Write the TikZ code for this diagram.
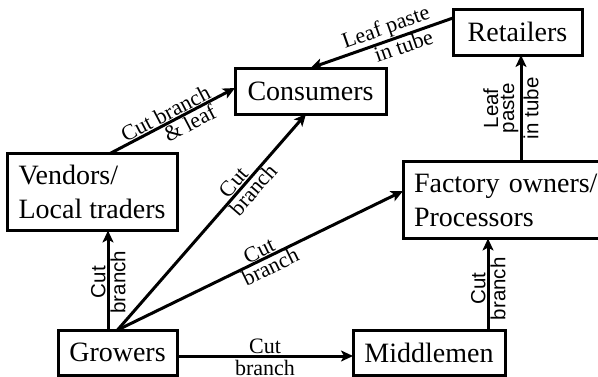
\documentclass[tikz,border=0pt]{standalone}
\usepackage{fontspec}
\setmainfont{Liberation Serif}
\newfontfamily\lblsans{Liberation Sans}
\usetikzlibrary{arrows.meta}
\begin{document}
\begin{tikzpicture}[x=1pt,y=-1pt,
  box/.style={draw,line width=3pt,outer sep=0pt,inner sep=0pt,font=\fontsize{28}{34}\selectfont,align=left},
  link/.style={line width=3pt,-{Stealth[length=12pt,width=11pt,inset=3pt]}},
  dlbl/.style={font=\fontsize{22}{22}\selectfont,inner sep=0.5pt,sloped},
  vlbl/.style={font=\lblsans\fontsize{20.5}{20}\selectfont,inner sep=1pt,sloped,align=center}]
\useasboundingbox (0,0) rectangle (598,376);
\node[box,minimum width=129pt,minimum height=46pt] (ret) at (517.5,32) {Retailers};
\node[box,minimum width=151pt,minimum height=46pt] (cons) at (310.5,91) {Consumers};
\node[box,minimum width=170pt,minimum height=77pt] (vend) at (92,192) {Vendors/\\Local traders};
\node[box,minimum height=77pt,text width=192pt,inner xsep=11pt] (fact) at (510,200) {Factory owners/\\Processors};
\node[box,minimum width=119pt,minimum height=45pt] (grow) at (117.5,352.5) {Growers};
\node[box,minimum width=152pt,minimum height=45pt] (mid) at (429,352.5) {Middlemen};
% connectors
\draw[link] ([xshift=103pt]vend.north west) -- ([yshift=3pt]cons.west)
  node[dlbl,pos=0.48,above]{Cut branch}
  node[dlbl,pos=0.6,below]{\& leaf};
\draw[link,{Stealth[length=12pt,width=11pt,inset=3pt]}-] (cons.north) -- ([yshift=14pt]ret.west)
  node[dlbl,pos=0.56,above]{Leaf paste}
  node[dlbl,pos=0.63,below]{in tube};
\coordinate (fr) at ([xshift=11pt]fact.north);
\draw[link] (fr) -- (fr |- ret.south)
  node[vlbl,pos=0.5,above]{Leaf\\[-4pt]paste}
  node[vlbl,pos=0.5,below]{in tube};
\coordinate (gv) at ([xshift=-9.5pt]grow.north);
\draw[link] (gv) -- (gv |- vend.south)
  node[vlbl,pos=0.48,above]{Cut}
  node[vlbl,pos=0.48,below]{branch};
\draw[link] (grow.north) -- ([xshift=-4.5pt]cons.south)
  node[dlbl,pos=0.655,above]{Cut}
  node[dlbl,pos=0.68,below]{branch};
\draw[link] (grow.north) -- ([yshift=9pt]fact.west)
  node[dlbl,pos=0.51,above]{Cut}
  node[dlbl,pos=0.52,below]{branch};
\draw[link] ([yshift=-3.5pt]grow.east) -- ([yshift=-3.5pt]mid.west)
  node[dlbl,pos=0.5,above]{Cut}
  node[dlbl,pos=0.5,below=2.5pt]{branch};
\coordinate (mf) at ([xshift=59pt]mid.north);
\draw[link] (mf) -- (mf |- fact.south)
  node[vlbl,pos=0.45,above]{Cut}
  node[vlbl,pos=0.45,below]{branch};
\end{tikzpicture}
\end{document}
